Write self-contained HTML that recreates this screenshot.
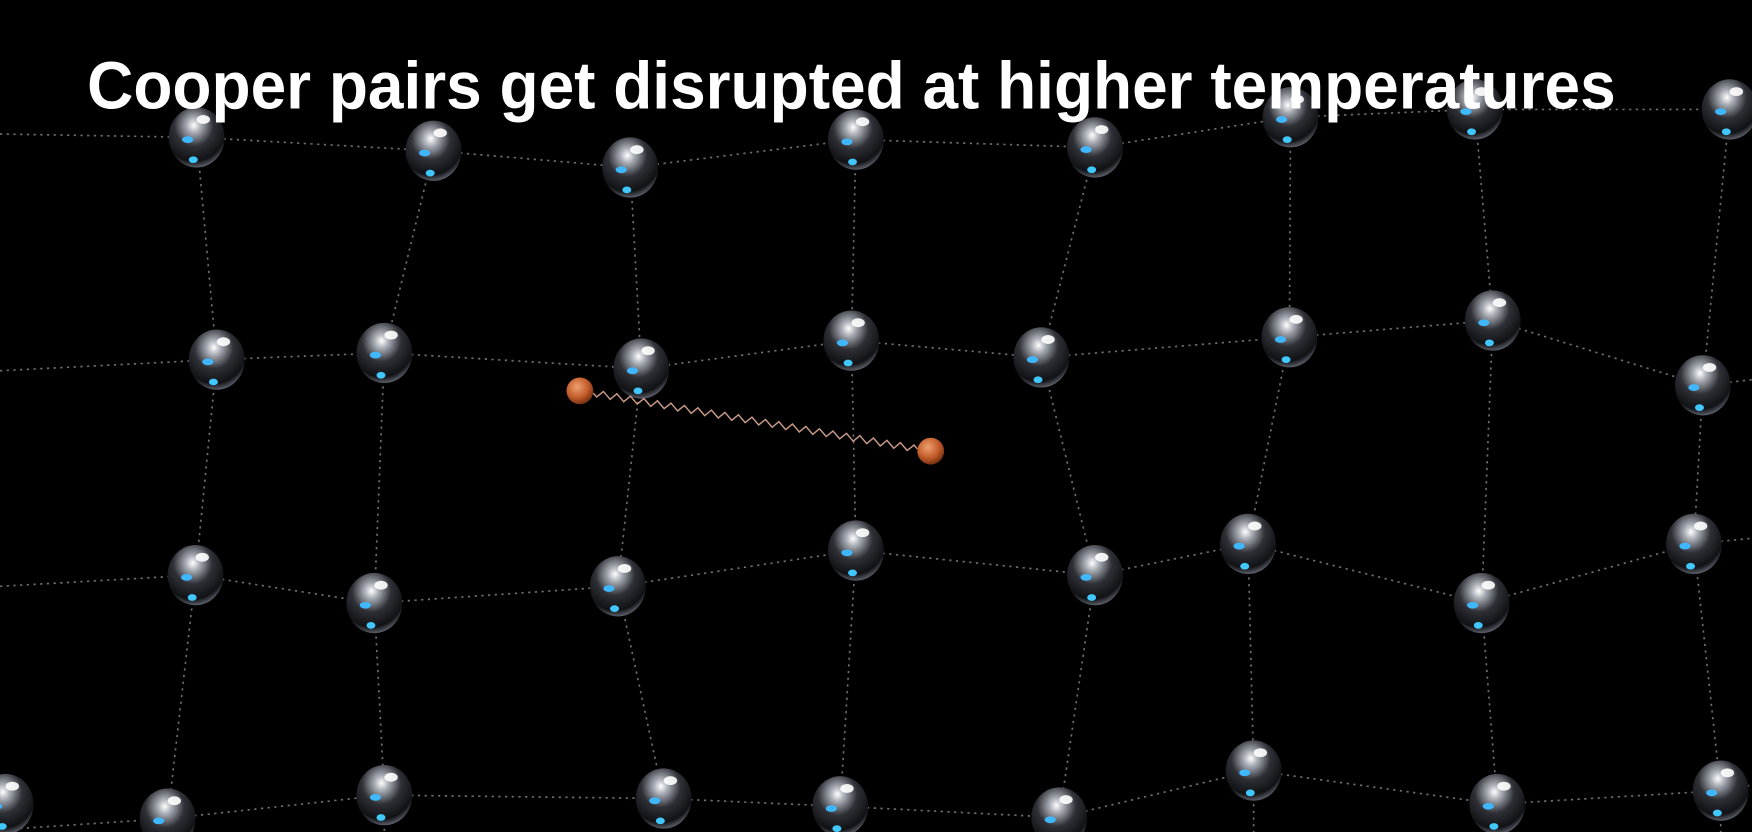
<!DOCTYPE html>
<html><head><meta charset="utf-8"><style>html,body{margin:0;padding:0;background:#000;overflow:hidden}svg{display:block}</style></head>
<body>
<svg width="1752" height="832" viewBox="0 0 1568 745" preserveAspectRatio="none" xmlns="http://www.w3.org/2000/svg">
<defs>
<radialGradient id="ball" cx="0.45" cy="0.3" r="0.7">
<stop offset="0" stop-color="#ffffff"/><stop offset="0.18" stop-color="#a8acb4"/><stop offset="0.5" stop-color="#2e3036"/><stop offset="0.85" stop-color="#111215"/><stop offset="1" stop-color="#5a5e68"/>
</radialGradient>
<radialGradient id="elec" cx="0.4" cy="0.35" r="0.7"><stop offset="0" stop-color="#f0a070"/><stop offset="0.6" stop-color="#c05a28"/><stop offset="1" stop-color="#6a2a10"/></radialGradient>
</defs>
<rect width="1568" height="745" fill="#000"/>
<g id="bonds" stroke="#6e6e6e" stroke-width="1.5" stroke-dasharray="2 4" fill="none"></g>
<g id="balls"></g>
<path id="wave" fill="none" stroke="#c89a88" stroke-width="1.3"/>
<circle cx="519" cy="350" r="12" fill="url(#elec)"/>
<circle cx="833" cy="404" r="12" fill="url(#elec)"/>
<text x="78" y="97" font-family="Liberation Sans, sans-serif" font-weight="bold" font-size="60" fill="#fff" textLength="1368" lengthAdjust="spacingAndGlyphs">Cooper pairs get disrupted at higher temperatures</text>
</svg>
<script>
const rowsX=[[176,388,564,766,980,1155,1320,1548],[194,344,574,762,932,1154,1336,1524],[175,335,553,766,980,1117,1326,1516],[150,344,594,752,948,1122,1340,1540]];
const rowsY=[[123,135,150,125,132,105,98,98],[322,316,330,305,320,302,287,345],[515,540,525,493,515,487,540,487],[733,712,715,722,732,690,720,708]];
const NS='http://www.w3.org/2000/svg';
const bonds=document.getElementById('bonds'),balls=document.getElementById('balls');
function line(x1,y1,x2,y2){const l=document.createElementNS(NS,'line');l.setAttribute('x1',x1);l.setAttribute('y1',y1);l.setAttribute('x2',x2);l.setAttribute('y2',y2);


bonds.appendChild(l);}
for(let r=0;r<4;r++){const xs=rowsX[r],ys=rowsY[r];
line(0,ys[0]+(r==0?-3:10),xs[0],ys[0]);
for(let i=0;i<xs.length-1;i++)line(xs[i],ys[i],xs[i+1],ys[i+1]);
line(xs[xs.length-1],ys[ys.length-1],1568,ys[ys.length-1]-5);
if(r<3)for(let i=0;i<xs.length;i++)line(xs[i],ys[i],rowsX[r+1][i],rowsY[r+1][i]);
else for(let i=0;i<xs.length;i++)line(xs[i],ys[i],xs[i],745);}
line(0,745,5,720);
function ball(x,y){const g=document.createElementNS(NS,'g');


g.innerHTML=`<ellipse cx="${x}" cy="${y}" rx="25" ry="27" fill="url(#ball)"/><ellipse cx="${x-8}" cy="${y+2}" rx="5" ry="3" fill="#3fb8ff"/><ellipse cx="${x-3}" cy="${y+20}" rx="4" ry="3" fill="#40c8ff"/><ellipse cx="${x+6}" cy="${y-16}" rx="6" ry="4" fill="#fff" opacity="0.9"/>`;
balls.appendChild(g);}
for(let r=0;r<4;r++)for(let i=0;i<rowsX[r].length;i++)ball(rowsX[r][i],rowsY[r][i]);
ball(5,720);
let d='M531,352';const x1=531,y1=352,x2=821,y2=402,n=24;
for(let k=1;k<=n*4;k++){const t=k/(n*4);const x=x1+(x2-x1)*t,y=y1+(y2-y1)*t+Math.sin(t*n*2*Math.PI)*3;d+=` L${x.toFixed(1)},${y.toFixed(1)}`;}
document.getElementById('wave').setAttribute('d',d);
</script>
</body></html>
